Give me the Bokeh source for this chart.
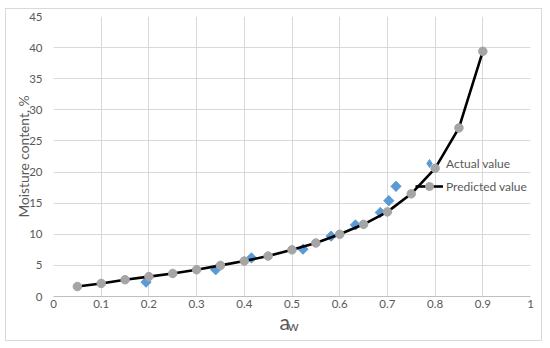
import numpy as np
from bokeh.plotting import figure
from bokeh.models import Range1d, Legend, LegendItem, FixedTicker, LinearAxis, ColumnDataSource
from bokeh.embed import file_html
from bokeh.resources import INLINE

# Data
aw_pred = [0.05, 0.10, 0.15, 0.20, 0.25, 0.30, 0.35, 0.40, 0.45, 0.50,
           0.55, 0.60, 0.65, 0.70, 0.75, 0.80, 0.85, 0.90]
mc_pred = [1.6, 2.1, 2.7, 3.2, 3.7, 4.3, 5.0, 5.7, 6.5, 7.5,
           8.6, 10.0, 11.6, 13.6, 16.5, 20.6, 27.1, 39.4]
aw_act = [0.194, 0.340, 0.415, 0.523, 0.582, 0.633, 0.685, 0.703, 0.718]
mc_act = [2.3, 4.3, 6.2, 7.6, 9.7, 11.5, 13.5, 15.4, 17.7]
x_ticks = [0, 0.1, 0.2, 0.3, 0.4, 0.5, 0.6, 0.7, 0.8, 0.9, 1]
x_tick_labels = ["0", "0.1", "0.2", "0.3", "0.4", "0.5", "0.6", "0.7", "0.8", "0.9", "1"]
y_ticks = [0, 5, 10, 15, 20, 25, 30, 35, 40, 45]
x_title_main = "a"
x_title_sub = "w"

FONT = "Lato"
TXT = "#595959"
GRID = "#d9d9d9"
BLUE = "#5b9bd5"

p = figure(output_backend="svg", toolbar_location=None,
           frame_width=477, frame_height=280,
           min_border_left=47, min_border_right=11,
           min_border_top=7, min_border_bottom=44,
           x_range=Range1d(0, 1), y_range=Range1d(0, 45),
           styles={"border": "1px solid #d9d9d9",
                   "margin-left": "5px", "margin-top": "8px"})
p.outline_line_color = None
p.background_fill_color = "white"
p.border_fill_color = "white"

p.xaxis.ticker = FixedTicker(ticks=x_ticks)
p.xaxis.major_label_overrides = {t: l for t, l in zip(x_ticks, x_tick_labels)}
p.yaxis.ticker = FixedTicker(ticks=y_ticks)
for ax in (p.xaxis, p.yaxis):
    ax.major_tick_line_color = None
    ax.minor_tick_line_color = None
    ax.major_tick_out = 0
    ax.major_label_text_font = FONT
    ax.major_label_text_font_size = "11.5px"
    ax.major_label_text_color = TXT
p.xaxis.axis_line_color = "#bfbfbf"
p.yaxis.axis_line_color = None
p.xaxis.major_label_standoff = 3
p.yaxis.major_label_standoff = 11

p.yaxis.axis_label = "Moisture content, %"
p.yaxis.axis_label_text_font = FONT
p.yaxis.axis_label_text_font_size = "13.8px"
p.yaxis.axis_label_text_font_style = "normal"
p.yaxis.axis_label_text_color = TXT
p.yaxis.axis_label_standoff = -6


def title_axis(pos, text, size, standoff):
    ax = LinearAxis(ticker=FixedTicker(ticks=[pos]),
                    major_label_overrides={pos: text})
    ax.axis_line_color = None
    ax.major_tick_line_color = None
    ax.minor_tick_line_color = None
    ax.major_tick_out = 0
    ax.major_tick_in = 0
    ax.major_label_standoff = standoff
    ax.major_label_text_font = FONT
    ax.major_label_text_font_size = size
    ax.major_label_text_color = TXT
    p.add_layout(ax, "below")
    return ax


title_axis(0.4847, x_title_main, "21px", -2)
title_axis(0.5025, x_title_sub, "14px", -20)

p.xgrid.grid_line_color = GRID
p.ygrid.grid_line_color = GRID
p.xgrid.ticker = FixedTicker(ticks=x_ticks)
p.ygrid.ticker = FixedTicker(ticks=y_ticks)

act_src = ColumnDataSource(dict(x=aw_act, y=mc_act,
                                rot=[np.pi / 4] * len(aw_act)))
# diamond-shaped key glyph, fully covered by the rotated squares in the plot
act_key = p.scatter("x", "y", source=act_src, marker="diamond", size=9.5,
                    fill_color=BLUE, line_color=BLUE)
act = p.scatter("x", "y", source=act_src, marker="square", angle="rot",
                size=7.2, fill_color=BLUE, line_color=BLUE)
ln = p.line(aw_pred, mc_pred, line_color="black", line_width=2.6)
pred = p.scatter(aw_pred, mc_pred, marker="circle", size=8.5,
                 fill_color="#a5a5a5", line_color="#a5a5a5")

legend = Legend(items=[LegendItem(label="Actual value", renderers=[act_key]),
                       LegendItem(label="Predicted value", renderers=[ln, pred])],
                location=(362, 100), orientation="vertical")
legend.border_line_color = None
legend.background_fill_alpha = 0
legend.padding = 0
legend.margin = 0
legend.spacing = 3
legend.glyph_width = 28
legend.glyph_height = 20
legend.label_height = 20
legend.label_standoff = 3
legend.label_text_font = FONT
legend.label_text_font_size = "12px"
legend.label_text_color = TXT
p.add_layout(legend, "center")

open("out.html", "w").write(file_html(p, INLINE))
